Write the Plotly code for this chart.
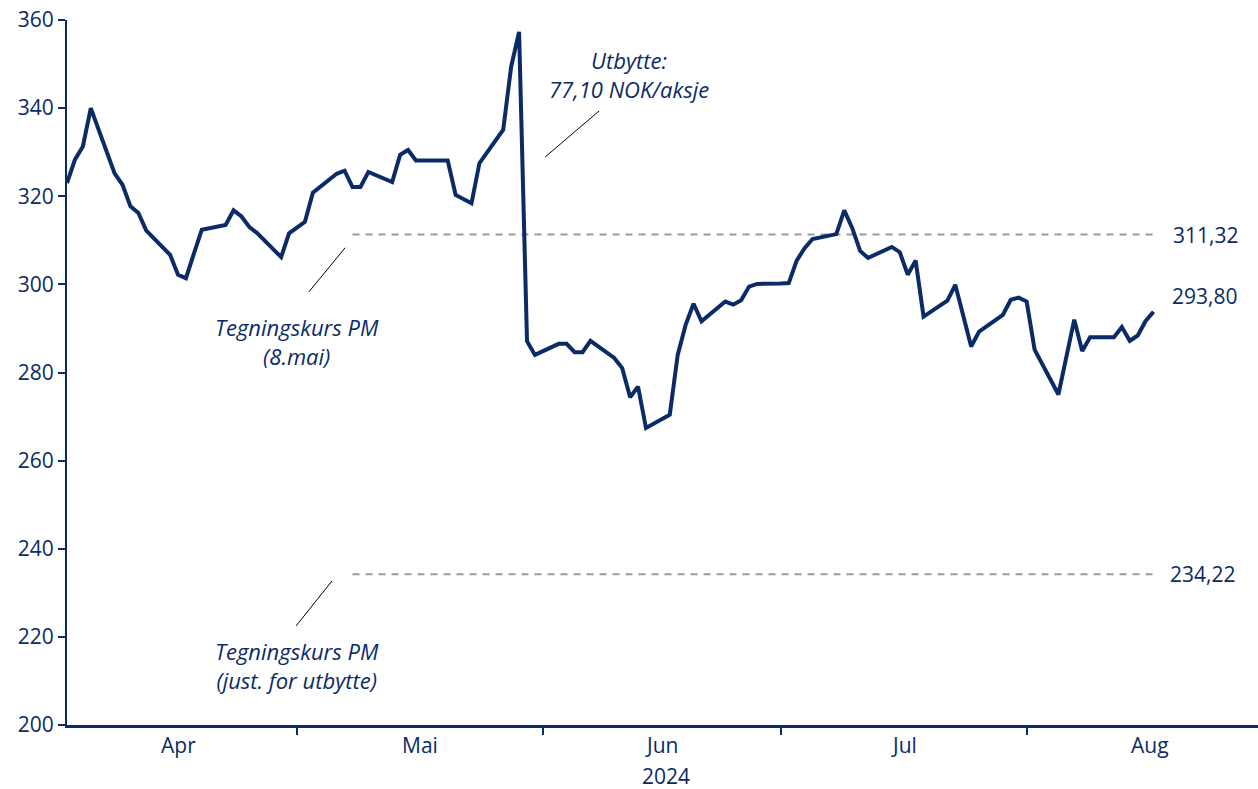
import plotly.graph_objects as go

# Daily closing price (NOK), weekdays from 2 April to mid-August 2024
dates = [
    "2024-04-02", "2024-04-03", "2024-04-04", "2024-04-05",
    "2024-04-08", "2024-04-09", "2024-04-10", "2024-04-11", "2024-04-12",
    "2024-04-15", "2024-04-16", "2024-04-17", "2024-04-18", "2024-04-19",
    "2024-04-22", "2024-04-23", "2024-04-24", "2024-04-25", "2024-04-26",
    "2024-04-29", "2024-04-30", "2024-05-01", "2024-05-02", "2024-05-03",
    "2024-05-06", "2024-05-07", "2024-05-08", "2024-05-09", "2024-05-10",
    "2024-05-13", "2024-05-14", "2024-05-15", "2024-05-16", "2024-05-17",
    "2024-05-20", "2024-05-21", "2024-05-22", "2024-05-23", "2024-05-24",
    "2024-05-27", "2024-05-28", "2024-05-29", "2024-05-30", "2024-05-31",
    "2024-06-03", "2024-06-04", "2024-06-05", "2024-06-06", "2024-06-07",
    "2024-06-10", "2024-06-11", "2024-06-12", "2024-06-13", "2024-06-14",
    "2024-06-17", "2024-06-18", "2024-06-19", "2024-06-20", "2024-06-21",
    "2024-06-24", "2024-06-25", "2024-06-26", "2024-06-27", "2024-06-28",
    "2024-07-01", "2024-07-02", "2024-07-03", "2024-07-04", "2024-07-05",
    "2024-07-08", "2024-07-09", "2024-07-10", "2024-07-11", "2024-07-12",
    "2024-07-15", "2024-07-16", "2024-07-17", "2024-07-18", "2024-07-19",
    "2024-07-22", "2024-07-23", "2024-07-24", "2024-07-25", "2024-07-26",
    "2024-07-29", "2024-07-30", "2024-07-31", "2024-08-01", "2024-08-02",
    "2024-08-05", "2024-08-06", "2024-08-07", "2024-08-08", "2024-08-09",
    "2024-08-12", "2024-08-13", "2024-08-14", "2024-08-15", "2024-08-16",
    "2024-08-17",
]
price = [
    323.0, 328.3, 331.3, 340.0,
    325.2, 322.6, 317.7, 316.2, 312.2,
    306.7, 302.2, 301.4, 307.0, 312.4,
    313.5, 316.8, 315.4, 313.0, 311.6,
    306.2, 311.6, 313.0, 314.2, 320.8,
    325.1, 325.8, 322.1, 322.1, 325.5,
    323.2, 329.4, 330.5, 328.1, 328.1,
    328.1, 320.3, 319.4, 318.4, 327.5,
    335.1, 349.4, 357.3, 287.1, 284.0,
    286.5, 286.5, 284.6, 284.6, 287.2,
    283.3, 281.0, 274.4, 276.8, 267.4,
    270.4, 284.0, 290.8, 295.6, 291.6,
    296.1, 295.4, 296.4, 299.5, 300.1,
    300.2, 300.3, 305.4, 308.2, 310.3,
    311.4, 316.8, 312.8, 307.6, 306.0,
    308.5, 307.3, 302.2, 305.4, 292.7,
    296.3, 299.9, 293.1, 285.9, 289.3,
    293.1, 296.5, 297.0, 296.1, 285.2,
    275.0, 283.5, 292.0, 284.9, 288.0,
    288.0, 290.3, 287.2, 288.4, 291.7,
    293.8,
]

# Subscription price in the private placement (8 May) and the dividend-adjusted level
sub_dates = ["2024-05-08", "2024-08-17"]
sub_price = 311.32
sub_price_adj = 234.22

months = ["Apr", "Mai", "Jun", "Jul", "Aug"]
month_mid = ["2024-04-16", "2024-05-16 12:00", "2024-06-16", "2024-07-16 12:00", "2024-08-16 12:00"]
month_starts = ["2024-05-01", "2024-06-01", "2024-07-01", "2024-08-01"]
year_label = "2024"
y_ticks = [200, 220, 240, 260, 280, 300, 320, 340, 360]

NAVY = "#0B2B66"
GREY = "#9A9A9A"
FONT = "Open Sans"


def fmt(v):
    return f"{v:.2f}".replace(".", ",")


fig = go.Figure()

for level in (sub_price, sub_price_adj):
    fig.add_trace(go.Scatter(
        x=sub_dates, y=[level, level], mode="lines",
        line=dict(color=GREY, width=2, dash="7px,6px"),
        hoverinfo="skip", showlegend=False,
    ))

fig.add_trace(go.Scatter(
    x=dates, y=price, mode="lines",
    line=dict(color=NAVY, width=4),
    showlegend=False,
))

annotations = []

# value labels to the right of the series
annotations.append(dict(x=sub_dates[-1], y=sub_price, text=fmt(sub_price), xanchor="left",
                        yanchor="middle", xshift=17, showarrow=False))
annotations.append(dict(x=sub_dates[-1], y=sub_price_adj, text=fmt(sub_price_adj), xanchor="left",
                        yanchor="middle", xshift=14, showarrow=False))
annotations.append(dict(x=dates[-1], y=price[-1], text=fmt(price[-1]), xanchor="left",
                        yanchor="middle", xshift=16, yshift=16, showarrow=False))

# explanatory notes
note_font = dict(family=FONT, size=22, color=NAVY)
annotations.append(dict(x="2024-05-01", y=287.0, text="<i>Tegningskurs PM<br>(8.mai)</i>",
                        xanchor="center", yanchor="middle", showarrow=False, font=note_font))
annotations.append(dict(x="2024-05-01", y=213.4, text="<i>Tegningskurs PM<br>(just. for utbytte)</i>",
                        xanchor="center", yanchor="middle", showarrow=False, font=note_font))
annotations.append(dict(x="2024-06-11 21:00", y=347.7, text="<i>Utbytte:<br>77,10 NOK/aksje</i>",
                        xanchor="center", yanchor="middle", showarrow=False, font=note_font))

# month labels centred in each month, year below
for m, mid in zip(months, month_mid):
    annotations.append(dict(x=mid, y=0, xref="x", yref="paper", text=m, showarrow=False,
                            yanchor="middle", yshift=-20))
annotations.append(dict(x=0.503, y=0, xref="paper", yref="paper", text=year_label,
                        showarrow=False, yanchor="middle", yshift=-51))

# thin leader lines for the notes
shapes = []
leaders = [
    ("2024-05-02 12:00", 298.3, "2024-05-07 01:30", 308.3),
    ("2024-04-30 21:30", 222.5, "2024-05-05 10:00", 232.7),
    ("2024-06-01 07:00", 328.9, "2024-06-08 02:00", 339.35),
]
for x0, y0, x1, y1 in leaders:
    shapes.append(dict(type="line", xref="x", yref="y", x0=x0, y0=y0, x1=x1, y1=y1,
                       line=dict(color="black", width=1)))

fig.update_layout(
    width=1258, height=789,
    margin=dict(l=67, r=0, t=20, b=64),
    paper_bgcolor="white", plot_bgcolor="white",
    font=dict(family=FONT, size=21, color=NAVY),
    annotations=annotations,
    shapes=shapes,
    showlegend=False,
)

fig.update_xaxes(
    type="date",
    range=["2024-04-02", "2024-08-30 04:00"],
    tickvals=month_starts, ticktext=[""] * len(month_starts),
    ticks="outside", ticklen=7, tickwidth=2, tickcolor=NAVY,
    showline=True, linecolor=NAVY, linewidth=3,
    showgrid=False, zeroline=False,
)
fig.update_yaxes(
    range=[200, 360],
    tickvals=y_ticks,
    ticks="outside", ticklen=7, tickwidth=2, tickcolor=NAVY,
    showline=True, linecolor=NAVY, linewidth=2,
    showgrid=False, zeroline=False,
    tickfont=dict(family=FONT, size=21, color=NAVY),
)

fig.write_html("out.html")
